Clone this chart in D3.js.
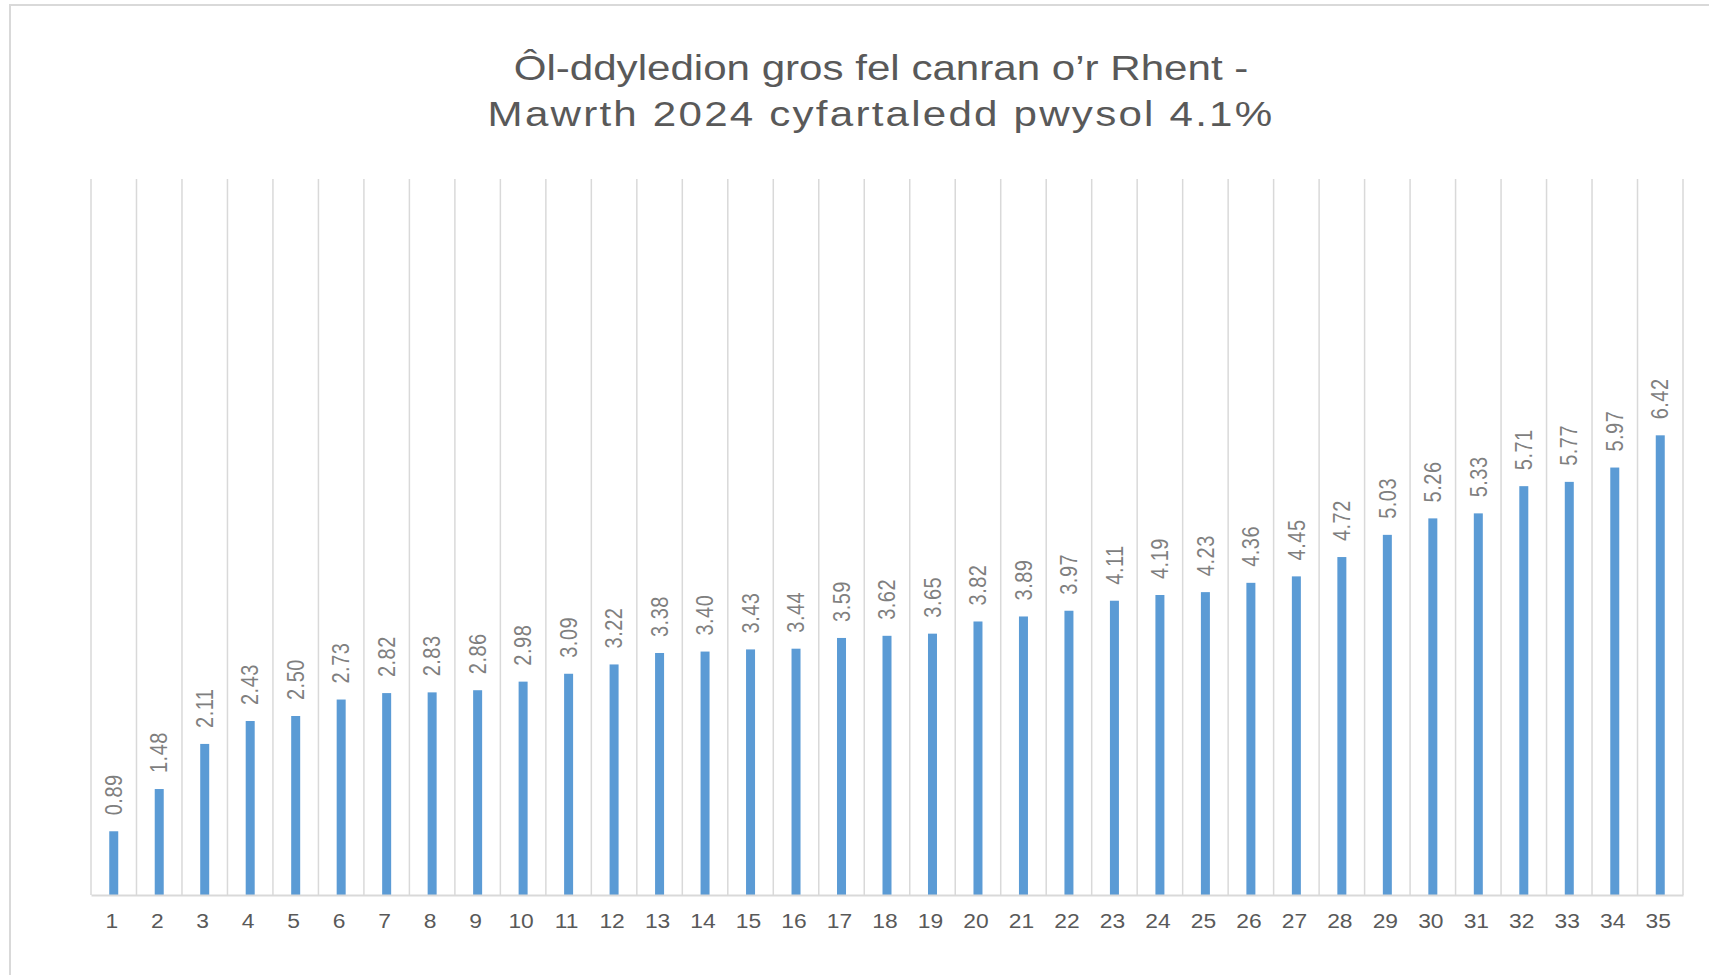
<!DOCTYPE html>
<html>
<head>
<meta charset="utf-8">
<script src="https://cdn.jsdelivr.net/npm/d3@7"></script>
<style>
  body { margin: 0; background: #fff; }
  #canvas { width: 1709px; height: 975px; }
  text { font-family: "Liberation Sans", Arial, sans-serif; }
</style>
</head>
<body>
<div id="canvas"></div>
<script>
var canvasWidth = 1709,
    canvasHeight = 975;

// data
var categories = d3.range(1, 36).map(String);
var values = [0.89, 1.48, 2.11, 2.43, 2.50, 2.73, 2.82, 2.83, 2.86, 2.98,
              3.09, 3.22, 3.38, 3.40, 3.43, 3.44, 3.59, 3.62, 3.65, 3.82,
              3.89, 3.97, 4.11, 4.19, 4.23, 4.36, 4.45, 4.72, 5.03, 5.26,
              5.33, 5.71, 5.77, 5.97, 6.42];
var titleLines = ['Ôl-ddyledion gros fel canran o’r Rhent -',
                  'Mawrth 2024 cyfartaledd pwysol 4.1%'];
var yDomain = [0, 10];

var margin = {t:179, r:26, b:80, l:91};
var stretch = 1.17; // the original text is a bit wide

var svg = d3.select('#canvas')
    .append('svg')
    .attr('width', canvasWidth)
    .attr('height', canvasHeight);

// outer chart border (runs off the right and bottom edges)
svg.append('rect')
    .attr('x', 10)
    .attr('y', 5)
    .attr('width', 1760)
    .attr('height', 1000)
    .style('fill', 'none')
    .style('stroke', '#d9d9d9')
    .style('stroke-width', 2);

// title
svg.append('g').selectAll('text')
    .data(titleLines)
    .enter()
    .append('text')
    .attr('transform', function(d, i){
        return 'translate(881,' + (80 + i*46) + ') scale(' + stretch + ',1)';
    })
    .attr('text-anchor', 'middle')
    .style('font-size', '36px')
    .style('letter-spacing', function(d, i){ return i ? '1.9px' : '0px'; })
    .style('fill', '#595959')
    .text(function(d){ return d; });

var x = d3.scaleBand()
    .domain(categories)
    .range([margin.l, 1683])
    .paddingInner(0)
    .paddingOuter(0);

var y = d3.scaleLinear()
    .domain(yDomain)
    .range([895, margin.t]);

var plot = svg.append('g');

// vertical gridlines at category boundaries
var bounds = categories.map(function(c){ return x(c); }).concat([x(categories[34]) + x.bandwidth()]);
plot.selectAll('.grid')
    .data(bounds)
    .enter()
    .append('line')
    .attr('class', 'grid')
    .attr('x1', function(d){ return d; })
    .attr('x2', function(d){ return d; })
    .attr('y1', y(yDomain[1]))
    .attr('y2', y(0))
    .style('stroke', '#d9d9d9')
    .style('stroke-width', 1.5);

// bars
var barW = 9;
plot.selectAll('.bar')
    .data(values)
    .enter()
    .append('rect')
    .attr('class', 'bar')
    .attr('x', function(d, i){ return x(categories[i]) + x.bandwidth()/2 - barW/2; })
    .attr('y', function(d){ return y(d); })
    .attr('width', barW)
    .attr('height', function(d){ return y(0) - y(d); })
    .style('fill', '#5b9bd5');

// data labels, rotated
plot.selectAll('.lbl')
    .data(values)
    .enter()
    .append('text')
    .attr('class', 'lbl')
    .attr('transform', function(d, i){
        var cx = x(categories[i]) + x.bandwidth()/2;
        return 'translate(' + cx + ',' + (y(d) - 16) + ') rotate(-90) scale(1,' + stretch + ')';
    })
    .attr('dy', '0.35em')
    .style('font-size', '20px')
    .style('letter-spacing', '0.5px')
    .style('fill', '#7f7f7f')
    .text(function(d){ return d.toFixed(2); });

// x axis
var xAxis = d3.axisBottom(x).tickSize(0).tickPadding(18);
var gx = svg.append('g')
    .attr('transform', 'translate(0,' + y(0) + ')')
    .call(xAxis);
gx.select('.domain')
    .style('stroke', '#d9d9d9')
    .style('stroke-width', 2);
gx.selectAll('text')
    .attr('transform', 'translate(-2,1) scale(' + stretch + ',1)')
    .style('font-family', '"Liberation Sans", Arial, sans-serif')
    .style('font-size', '19.5px')
    .style('fill', '#595959');
</script>
</body>
</html>
